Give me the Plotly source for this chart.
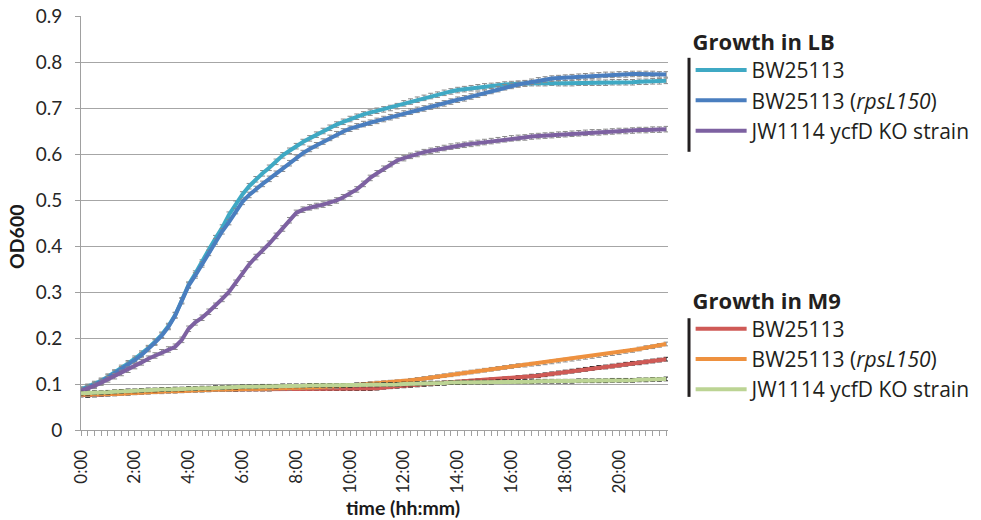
import plotly.graph_objects as go

# time in hours, sampled every 15 minutes (0:00 .. 21:45)
hours = [i / 4 for i in range(88)]
tick_hours = [0, 2, 4, 6, 8, 10, 12, 14, 16, 18, 20]
tick_labels = ["0:00", "2:00", "4:00", "6:00", "8:00", "10:00", "12:00", "14:00", "16:00", "18:00", "20:00"]

lb_bw25113 = [
    0.088, 0.094, 0.100, 0.107, 0.116, 0.125, 0.135, 0.145,
    0.155, 0.166, 0.178, 0.192, 0.207, 0.226, 0.250, 0.282,
    0.316, 0.340, 0.364, 0.392, 0.417, 0.440, 0.468, 0.492,
    0.512, 0.530, 0.545, 0.558, 0.570, 0.583, 0.597, 0.607,
    0.617, 0.626, 0.634, 0.642, 0.650, 0.657, 0.664, 0.670,
    0.676, 0.681, 0.686, 0.690, 0.694, 0.697, 0.700, 0.704,
    0.710, 0.714, 0.718, 0.722, 0.726, 0.729, 0.733, 0.736,
    0.739, 0.741, 0.743, 0.745, 0.747, 0.748, 0.749, 0.751,
    0.752, 0.753, 0.753, 0.754, 0.754, 0.754, 0.755, 0.754,
    0.754, 0.754, 0.755, 0.755, 0.755, 0.755, 0.755, 0.756,
    0.756, 0.756, 0.756, 0.757, 0.757, 0.758, 0.758, 0.759,
]
lb_rpsl150 = [
    0.086, 0.092, 0.098, 0.105, 0.114, 0.123, 0.132, 0.142,
    0.152, 0.163, 0.176, 0.190, 0.205, 0.224, 0.249, 0.280,
    0.314, 0.336, 0.360, 0.385, 0.410, 0.432, 0.452, 0.476,
    0.496, 0.511, 0.524, 0.535, 0.546, 0.557, 0.568, 0.580,
    0.592, 0.602, 0.611, 0.619, 0.627, 0.635, 0.643, 0.649,
    0.655, 0.660, 0.665, 0.668, 0.672, 0.676, 0.680, 0.684,
    0.688, 0.692, 0.696, 0.699, 0.703, 0.706, 0.710, 0.714,
    0.718, 0.721, 0.725, 0.729, 0.733, 0.737, 0.741, 0.745,
    0.748, 0.751, 0.754, 0.757, 0.760, 0.762, 0.764, 0.765,
    0.766, 0.767, 0.768, 0.769, 0.770, 0.771, 0.772, 0.772,
    0.773, 0.773, 0.774, 0.774, 0.774, 0.774, 0.773, 0.773,
]
lb_jw1114 = [
    0.085, 0.090, 0.096, 0.103, 0.110, 0.117, 0.124, 0.131,
    0.139, 0.147, 0.155, 0.162, 0.169, 0.175, 0.181, 0.196,
    0.220, 0.234, 0.244, 0.257, 0.270, 0.285, 0.300, 0.320,
    0.340, 0.360, 0.376, 0.390, 0.405, 0.422, 0.438, 0.456,
    0.472, 0.479, 0.484, 0.487, 0.490, 0.494, 0.499, 0.506,
    0.514, 0.523, 0.535, 0.548, 0.558, 0.568, 0.578, 0.586,
    0.591, 0.596, 0.600, 0.604, 0.607, 0.610, 0.613, 0.616,
    0.618, 0.620, 0.622, 0.624, 0.626, 0.628, 0.630, 0.632,
    0.634, 0.635, 0.636, 0.638, 0.639, 0.640, 0.641, 0.642,
    0.643, 0.644, 0.645, 0.646, 0.647, 0.647, 0.648, 0.649,
    0.650, 0.650, 0.651, 0.652, 0.652, 0.653, 0.653, 0.654,
]
m9_bw25113 = [
    0.076, 0.075, 0.076, 0.077, 0.078, 0.079, 0.080, 0.080,
    0.081, 0.082, 0.083, 0.084, 0.085, 0.085, 0.086, 0.086,
    0.087, 0.087, 0.087, 0.088, 0.088, 0.088, 0.088, 0.088,
    0.089, 0.089, 0.089, 0.089, 0.089, 0.090, 0.090, 0.090,
    0.090, 0.090, 0.090, 0.090, 0.090, 0.090, 0.090, 0.090,
    0.090, 0.090, 0.090, 0.090, 0.091, 0.093, 0.094, 0.095,
    0.096, 0.097, 0.098, 0.099, 0.100, 0.101, 0.102, 0.103,
    0.104, 0.105, 0.106, 0.107, 0.108, 0.109, 0.110, 0.111,
    0.112, 0.114, 0.115, 0.117, 0.118, 0.120, 0.122, 0.124,
    0.126, 0.128, 0.130, 0.132, 0.134, 0.136, 0.137, 0.139,
    0.141, 0.143, 0.145, 0.146, 0.148, 0.150, 0.152, 0.154,
]
m9_rpsl150 = [
    0.077, 0.077, 0.077, 0.078, 0.078, 0.078, 0.079, 0.080,
    0.081, 0.082, 0.082, 0.083, 0.083, 0.084, 0.084, 0.085,
    0.086, 0.086, 0.087, 0.087, 0.088, 0.088, 0.088, 0.089,
    0.089, 0.089, 0.090, 0.090, 0.090, 0.091, 0.091, 0.091,
    0.092, 0.092, 0.093, 0.093, 0.094, 0.094, 0.095, 0.096,
    0.097, 0.098, 0.099, 0.101, 0.102, 0.103, 0.104, 0.105,
    0.106, 0.108, 0.110, 0.112, 0.114, 0.116, 0.118, 0.120,
    0.122, 0.124, 0.126, 0.128, 0.130, 0.132, 0.134, 0.136,
    0.138, 0.140, 0.141, 0.143, 0.144, 0.146, 0.148, 0.150,
    0.152, 0.154, 0.156, 0.158, 0.160, 0.162, 0.164, 0.166,
    0.168, 0.171, 0.173, 0.176, 0.179, 0.181, 0.184, 0.187,
]
m9_jw1114 = [
    0.080, 0.080, 0.081, 0.081, 0.082, 0.083, 0.084, 0.085,
    0.085, 0.086, 0.087, 0.087, 0.088, 0.088, 0.089, 0.089,
    0.090, 0.090, 0.091, 0.091, 0.092, 0.092, 0.093, 0.093,
    0.094, 0.094, 0.094, 0.095, 0.095, 0.095, 0.096, 0.096,
    0.096, 0.096, 0.097, 0.097, 0.097, 0.097, 0.097, 0.097,
    0.097, 0.098, 0.098, 0.098, 0.098, 0.099, 0.099, 0.099,
    0.100, 0.100, 0.101, 0.101, 0.102, 0.102, 0.102, 0.103,
    0.103, 0.103, 0.104, 0.104, 0.104, 0.104, 0.105, 0.105,
    0.105, 0.105, 0.105, 0.105, 0.106, 0.106, 0.106, 0.106,
    0.106, 0.106, 0.107, 0.107, 0.107, 0.107, 0.107, 0.108,
    0.108, 0.108, 0.108, 0.109, 0.109, 0.110, 0.110, 0.111,
]

series = [
    ("BW25113", lb_bw25113, "#3fa9c4", "legend", "#8a8a8a", 0.006),
    ("BW25113 (<i>rpsL150</i>)", lb_rpsl150, "#4a7ebf", "legend", "#8a8a8a", 0.006),
    ("JW1114 ycfD KO strain", lb_jw1114, "#7d61a1", "legend", "#8a8a8a", 0.006),
    ("BW25113", m9_bw25113, "#cf5a56", "legend2", "#222222", 0.004),
    ("BW25113 (<i>rpsL150</i>)", m9_rpsl150, "#ee913f", "legend2", "#8a8a8a", 0.004),
    ("JW1114 ycfD KO strain", m9_jw1114, "#bcd494", "legend2", "#222222", 0.004),
]

fig = go.Figure()
for name, vals, color, leg, ecolor, err in series:
    fig.add_trace(go.Scatter(
        x=hours, y=vals, name=name, mode="lines",
        line=dict(color=color, width=4),
        error_y=dict(type="constant", value=err, color=ecolor, thickness=1, width=2.5),
        legend=leg,
    ))

ytick_font = dict(family="Lato, Liberation Sans, sans-serif", size=19, color="#262626")
xtick_font = dict(family="Lato, Liberation Sans, sans-serif", size=17, color="#262626")
title_font = dict(family="Lato, Liberation Sans, sans-serif", size=19.5, color="#1a1a1a")
legend_font = dict(family="Open Sans, Noto Sans, sans-serif", size=21, color="#231f20")
legend_title_font = dict(family="Open Sans, Noto Sans, sans-serif", size=22, color="#231f20")

fig.update_layout(
    width=981, height=520,
    margin=dict(l=81, r=313, t=16, b=90),
    plot_bgcolor="white", paper_bgcolor="white",
    xaxis=dict(
        range=[0, 21.82], tickmode="array", tickvals=tick_hours, ticktext=tick_labels,
        tickangle=-90, tickfont=xtick_font, ticks="outside", ticklen=5, tickcolor="#a0a0a0",
        showline=True, linecolor="#a0a0a0", linewidth=1, showgrid=False, zeroline=False,
        automargin=False, ticklabelstandoff=7,
        minor=dict(tickmode="linear", tick0=0, dtick=0.25, ticks="outside", ticklen=5,
                   tickcolor="#a0a0a0", showgrid=False),
    ),
    yaxis=dict(
        range=[0, 0.9], dtick=0.1, tickfont=ytick_font, ticks="outside", ticklen=5,
        tickcolor="#a0a0a0", showline=True, linecolor="#a0a0a0", linewidth=1,
        showgrid=True, gridcolor="#a6a6a6", gridwidth=1, zeroline=False,
        automargin=False, ticklabelstandoff=9,
    ),
    annotations=[
        dict(text="<b>time (hh:mm)</b>", xref="paper", yref="paper", x=0.5486, y=-0.1884,
             xanchor="center", yanchor="middle", showarrow=False, font=title_font),
        dict(text="<b>OD600</b>", xref="paper", yref="paper", x=-0.109, y=0.4662,
             xanchor="center", yanchor="middle", showarrow=False, textangle=-90, font=title_font),
    ],
    legend=dict(
        xref="container", yref="container",
        x=0.7040, y=0.959, xanchor="left", yanchor="top",
        title=dict(text="<b>Growth in LB</b>", font=legend_title_font),
        font=legend_font, bgcolor="rgba(0,0,0,0)", tracegroupgap=0, itemwidth=51,
    ),
    legend2=dict(
        xref="container", yref="container",
        x=0.7040, y=0.4617, xanchor="left", yanchor="top",
        title=dict(text="<b>Growth in M9</b>", font=legend_title_font),
        font=legend_font, bgcolor="rgba(0,0,0,0)", tracegroupgap=0, itemwidth=51,
    ),
    shapes=[
        dict(type="line", xref="paper", yref="paper", x0=1.0358, x1=1.0358, y0=0.672, y1=0.899,
             line=dict(color="#231f20", width=3)),
        dict(type="line", xref="paper", yref="paper", x0=1.0358, x1=1.0358, y0=0.080, y1=0.270,
             line=dict(color="#231f20", width=3)),
    ],
)

# remove the browser's default 8px body margin so the figure fills the window exactly
fig.write_html("out.html", config={"displayModeBar": False},
               post_script="document.body.style.margin='0';")
